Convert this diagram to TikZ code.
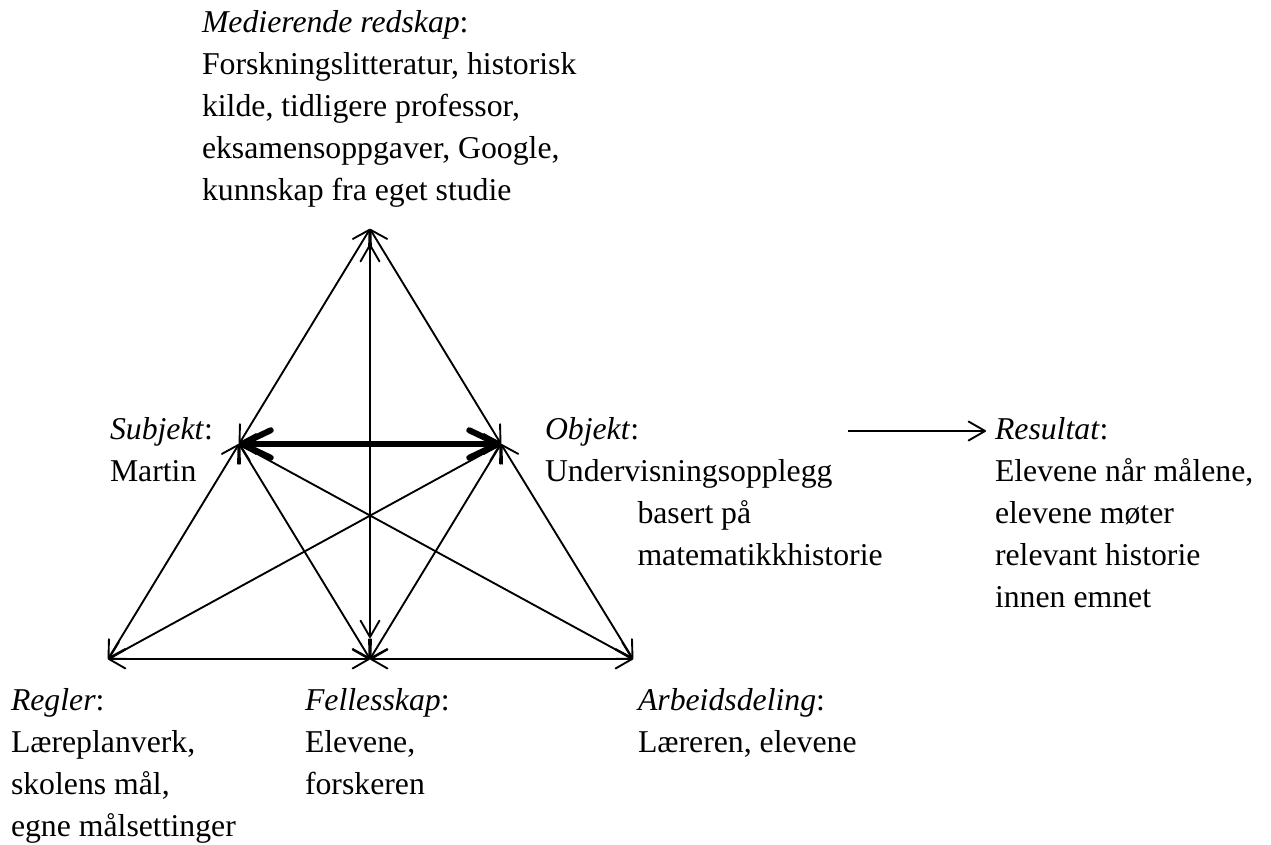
\documentclass[tikz,border=0pt]{standalone}
\usepackage{fontspec}
\setmainfont{Liberation Serif}
\usetikzlibrary{arrows.meta}

\tikzset{
  thinbarb/.tip={Straight Barb[round,length=6.6pt,width=7.6pt]},
  thickbarb/.tip={Straight Barb[round,length=11.5pt,width=11pt]},
  % anchor sits on the baseline of the last line of each text block
  txt/.style={inner sep=0pt, outer sep=0pt, anchor=base west, align=left,
    font=\fontsize{12.7}{16.8}\selectfont},
  link/.style={line width=0.75pt, thinbarb-thinbarb},
  boldlink/.style={line width=2.4pt, line cap=round, thickbarb-thickbarb},
  outlink/.style={line width=0.75pt, -thinbarb}
}

\begin{document}
\begin{tikzpicture}[x=0.4pt,y=-0.4pt]
  \useasboundingbox (0,0) rectangle (1271,845);

  % corners of the activity triangle
  \coordinate (T) at (370,229);
  \coordinate (S) at (239,444);
  \coordinate (O) at (501,444);
  \coordinate (R) at (108,659);
  \coordinate (F) at (370,659);
  \coordinate (A) at (633,659);
  % outcome arrow
  \coordinate (resfrom) at (848,431);
  \coordinate (resto) at (986,431);

  % texts
  \node[txt] (tool) at (202,201) {\textit{Medierende redskap}:\\
    Forskningslitteratur, historisk\\
    kilde, tidligere professor,\\
    eksamensoppgaver, Google,\\
    kunnskap fra eget studie};
  \node[txt] (subj) at (110,481) {\textit{Subjekt}:\\Martin};
  \node[txt] (obj) at (545,565) {\textit{Objekt}:\\
    Undervisningsopplegg\\
    \hspace*{37pt}basert på\\
    \hspace*{37pt}matematikkhistorie};
  \node[txt] (res) at (995,607) {\textit{Resultat}:\\
    Elevene når målene,\\
    elevene møter\\
    relevant historie\\
    innen emnet};
  \node[txt] (rules) at (11,836) {\textit{Regler}:\\
    Læreplanverk,\\
    skolens mål,\\
    egne målsettinger};
  \node[txt] (comm) at (305,794) {\textit{Fellesskap}:\\
    Elevene,\\
    forskeren};
  \node[txt] (div) at (638,752) {\textit{Arbeidsdeling}:\\
    Læreren, elevene};

  % connectors
  \draw[link] (T) -- (S);
  \draw[link] (T) -- (O);
  \draw[link] ([yshift=-6pt]T) -- ([yshift=8.4pt]F);
  \draw[link] (S) -- (R);
  \draw[link] (S) -- (F);
  \draw[link] (S) -- (A);
  \draw[link] (O) -- (R);
  \draw[link] (O) -- (F);
  \draw[link] (O) -- (A);
  \draw[link] (R) -- (F);
  \draw[link] (F) -- (A);
  \draw[boldlink] (S) -- (O);
  \draw[outlink] (resfrom) -- (resto);
\end{tikzpicture}
\end{document}
